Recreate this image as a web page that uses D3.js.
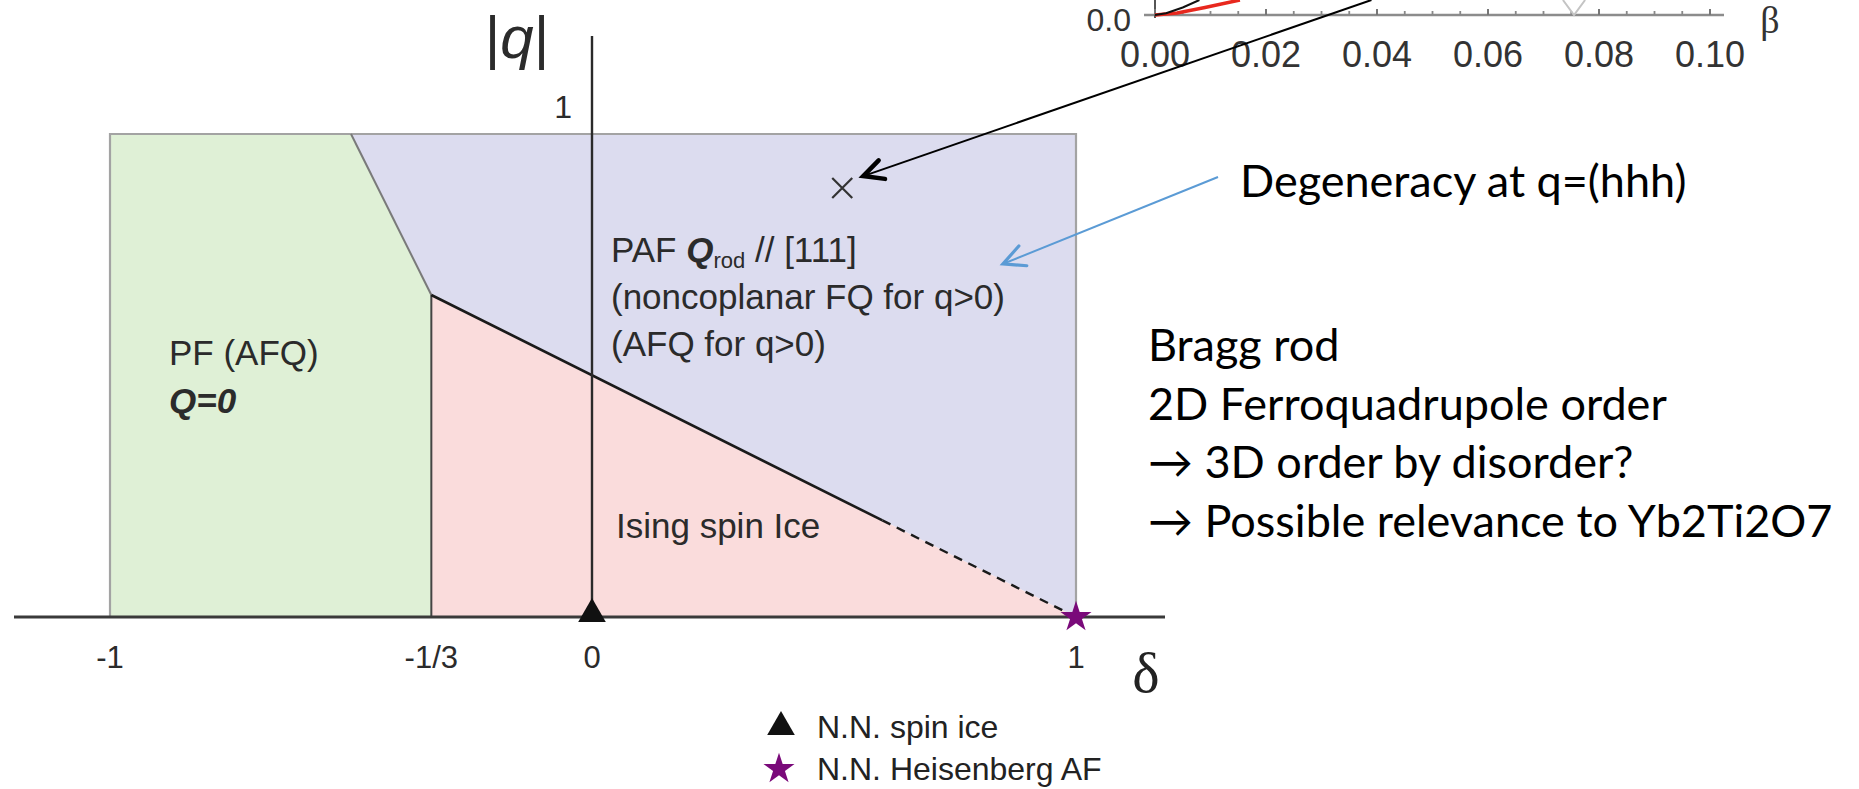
<!DOCTYPE html>
<html><head><meta charset="utf-8">
<script src="https://cdn.jsdelivr.net/npm/d3@7"></script>
<style>
html,body{margin:0;padding:0;background:#fff;}
svg{display:block;}
</style></head><body>
<svg id="c" width="1859" height="789"></svg>
<script>
// ---- phase diagram data, coordinates in (delta, |q|) ----
const deltaTicks = [-1, -1/3, 0, 1];
const deltaTickLabels = ["-1", "-1/3", "0", "1"];
const qTicks = [1];
const qTickLabels = ["1"];

const pfRegion = [[-1, 0], [-1, 1], [-0.5, 1], [-1/3, 2/3], [-1/3, 0]];
const pafRegion = [[-0.5, 1], [1, 1], [1, 0], [-1/3, 2/3]];
const isingRegion = [[-1/3, 0], [-1/3, 2/3], [1, 0]];

const pfPafBoundary = [[-0.5, 1], [-1/3, 2/3]];
const pfIsingBoundary = [[-1/3, 0], [-1/3, 2/3]];
const isingSolid = [[-1/3, 2/3], [0.6, 0.2]];
const isingDashed = [[0.6, 0.2], [1, 0]];

const spinIcePoint = [0, 0];
const heisenbergPoint = [1, 0];
const degeneracyPoint = [0.517, 0.888];
const blueTarget = [0.849, 0.731];

const legendItems = ["N.N. spin ice", "N.N. Heisenberg AF"];
const notes = ["Bragg rod", "2D Ferroquadrupole order", "\u2192 3D order by disorder?", "\u2192 Possible relevance to Yb2Ti2O7"];

// ---- inset (beta axis), only its bottom strip is visible ----
const betaTicks = [0, 0.02, 0.04, 0.06, 0.08, 0.10];
const betaTickLabels = ["0.00", "0.02", "0.04", "0.06", "0.08", "0.10"];
const betaMinorTicks = [0.005, 0.01, 0.015, 0.025, 0.03, 0.035, 0.045, 0.05, 0.055, 0.065, 0.07, 0.075, 0.085, 0.09, 0.095];
const redCurve = [[0, 0], [0.004, 0.007], [0.009, 0.025], [0.0153, 0.05]];
const blackCurve = [[0, 0], [0.002, 0.006], [0.005, 0.025], [0.008, 0.05]];
const greyDip = [[0.0735, 0.05], [0.0755, 0], [0.0775, 0.05]];
const arrowTail = [0.039, 0.05];

const svg = d3.select("#c");
const x = d3.scaleLinear().domain([-1, 0, 1]).range([110, 592, 1076]);
const y = d3.scaleLinear().domain([0, 1]).range([617, 134]);
const bx = d3.scaleLinear().domain([0, 0.1]).range([1155, 1710]);
const by = d3.scaleLinear().domain([0, 0.05]).range([15, 0]);

const line = d3.line().x(d => x(d[0])).y(d => y(d[1]));
const bline = d3.line().x(d => bx(d[0])).y(d => by(d[1]));
const SANS = "'Liberation Sans', Arial, sans-serif";
const SERIF = "'Liberation Serif', 'Times New Roman', serif";
const NOTE = "Lato, 'Open Sans', sans-serif";

// regions
const regions = [
  {pts: pfRegion, fill: "#dff0d6"},
  {pts: pafRegion, fill: "#dcdcef"},
  {pts: isingRegion, fill: "#fadcdc"}
];
svg.selectAll("path.region").data(regions).join("path")
  .attr("class", "region")
  .attr("d", d => line(d.pts) + "Z")
  .attr("fill", d => d.fill);

// outer frame of the diagram
svg.append("path")
  .attr("d", line([[-1, 0], [-1, 1], [1, 1], [1, 0]]))
  .attr("fill", "none").attr("stroke", "#a3a3a3").attr("stroke-width", 2.2);

svg.append("path").attr("d", line(pfPafBoundary))
  .attr("fill", "none").attr("stroke", "#7a7a7a").attr("stroke-width", 2);
svg.append("path").attr("d", line(pfIsingBoundary))
  .attr("fill", "none").attr("stroke", "#444").attr("stroke-width", 2);
svg.append("path").attr("d", line(isingSolid))
  .attr("fill", "none").attr("stroke", "#1a1a1a").attr("stroke-width", 2.6);
svg.append("path").attr("d", line(isingDashed))
  .attr("fill", "none").attr("stroke", "#1a1a1a").attr("stroke-width", 2.4)
  .attr("stroke-dasharray", "9,7");

// axes
svg.append("line").attr("x1", 14).attr("x2", 1165).attr("y1", y(0)).attr("y2", y(0))
  .attr("stroke", "#3a3a3a").attr("stroke-width", 3);
svg.append("line").attr("x1", x(0)).attr("x2", x(0)).attr("y1", 36).attr("y2", y(0))
  .attr("stroke", "#2a2a2a").attr("stroke-width", 2.4);

svg.selectAll("text.dtick").data(deltaTicks).join("text")
  .attr("class", "dtick")
  .attr("x", d => x(d)).attr("y", 668)
  .attr("text-anchor", "middle")
  .attr("font-family", SANS).attr("font-size", 31).attr("fill", "#2b2b2b")
  .text((d, i) => deltaTickLabels[i]);

svg.selectAll("text.qtick").data(qTicks).join("text")
  .attr("class", "qtick")
  .attr("x", x(0) - 20).attr("y", d => y(d) - 16)
  .attr("text-anchor", "end")
  .attr("font-family", SANS).attr("font-size", 32).attr("fill", "#2b2b2b")
  .text((d, i) => qTickLabels[i]);

const qLab = svg.append("text").attr("x", 517).attr("y", 58).attr("text-anchor", "middle")
  .attr("font-family", SANS).attr("font-size", 60).attr("fill", "#2b2b2b");
qLab.append("tspan").text("|");
qLab.append("tspan").attr("font-style", "italic").text("q");
qLab.append("tspan").text("|");

svg.append("text").attr("x", 1146).attr("y", 692).attr("text-anchor", "middle")
  .attr("font-family", SERIF).attr("font-size", 58).attr("fill", "#222").text("\u03b4");

// region labels
const lab = (tx, ty) => svg.append("text").attr("x", tx).attr("y", ty)
  .attr("font-family", SANS).attr("font-size", 35).attr("fill", "#2b2b2b");
lab(169, 365).text("PF (AFQ)");
lab(169, 413).attr("font-weight", "bold").attr("font-style", "italic").text("Q=0");

const paf = lab(611, 262);
paf.append("tspan").text("PAF ");
paf.append("tspan").attr("font-weight", "bold").attr("font-style", "italic").text("Q");
paf.append("tspan").attr("font-size", 22).attr("dy", 6).text("rod");
paf.append("tspan").attr("dy", -6).text(" // [111]");
lab(611, 309).text("(noncoplanar FQ for q>0)");
lab(611, 356).text("(AFQ for q>0)");
lab(616, 538).text("Ising spin Ice");

// markers
const tri = d3.symbol().type(d3.symbolTriangle).size(330);
const star = d3.symbol().type(d3.symbolStar).size(300);
svg.append("path").attr("d", tri)
  .attr("transform", `translate(${x(spinIcePoint[0])},${y(spinIcePoint[1]) - 3})`)
  .attr("fill", "#111");
svg.append("path").attr("d", star)
  .attr("transform", `translate(${x(heisenbergPoint[0])},${y(heisenbergPoint[1])})`)
  .attr("fill", "#7a0a7a");

// degeneracy cross
const cx = x(degeneracyPoint[0]), cy = y(degeneracyPoint[1]);
svg.append("path")
  .attr("d", `M${cx - 10},${cy - 10}L${cx + 10},${cy + 10}M${cx - 10},${cy + 10}L${cx + 10},${cy - 10}`)
  .attr("stroke", "#333").attr("stroke-width", 2.2).attr("fill", "none");

// legend
const legendY = [727, 769];
svg.append("path").attr("d", tri).attr("transform", `translate(781,${legendY[0]})`).attr("fill", "#111");
svg.append("path").attr("d", star).attr("transform", `translate(779,${legendY[1]})`).attr("fill", "#7a0a7a");
svg.selectAll("text.leg").data(legendItems).join("text")
  .attr("class", "leg")
  .attr("x", 817).attr("y", (d, i) => legendY[i] + 11)
  .attr("font-family", SANS).attr("font-size", 32).attr("fill", "#222")
  .text(d => d);

// inset strip
svg.append("line").attr("x1", 1144).attr("x2", 1724).attr("y1", by(0)).attr("y2", by(0))
  .attr("stroke", "#8c8c8c").attr("stroke-width", 2.4);
svg.append("line").attr("x1", bx(0)).attr("x2", bx(0)).attr("y1", -2).attr("y2", by(0) + 3)
  .attr("stroke", "#555").attr("stroke-width", 2);
svg.selectAll("line.bmaj").data(betaTicks).join("line").attr("class", "bmaj")
  .attr("x1", d => bx(d)).attr("x2", d => bx(d)).attr("y1", by(0) - 6).attr("y2", by(0))
  .attr("stroke", "#777").attr("stroke-width", 2);
svg.selectAll("line.bmin").data(betaMinorTicks).join("line").attr("class", "bmin")
  .attr("x1", d => bx(d)).attr("x2", d => bx(d)).attr("y1", by(0) - 4).attr("y2", by(0))
  .attr("stroke", "#888").attr("stroke-width", 1.8);
svg.selectAll("text.btick").data(betaTicks).join("text").attr("class", "btick")
  .attr("x", d => bx(d)).attr("y", 67).attr("text-anchor", "middle")
  .attr("font-family", SANS).attr("font-size", 36).attr("fill", "#333")
  .text((d, i) => betaTickLabels[i]);
svg.append("text").attr("x", 1131).attr("y", 31).attr("text-anchor", "end")
  .attr("font-family", SANS).attr("font-size", 32).attr("fill", "#333").text("0.0");
svg.append("text").attr("x", 1770).attr("y", 33).attr("text-anchor", "middle")
  .attr("font-family", SERIF).attr("font-size", 38).attr("fill", "#333").text("\u03b2");
svg.append("path").attr("d", bline(greyDip)).attr("fill", "none")
  .attr("stroke", "#c4c4c4").attr("stroke-width", 2);
svg.append("path").attr("d", bline(redCurve)).attr("fill", "none")
  .attr("stroke", "#e8281e").attr("stroke-width", 3.5);
svg.append("path").attr("d", bline(blackCurve)).attr("fill", "none")
  .attr("stroke", "#111").attr("stroke-width", 2);

// arrows
function arrow(x1, y1, x2, y2, color, w, headW, len) {
  svg.append("line").attr("x1", x1).attr("y1", y1).attr("x2", x2).attr("y2", y2)
    .attr("stroke", color).attr("stroke-width", w);
  const a = Math.atan2(y1 - y2, x1 - x2), s = 0.46;
  const p1 = [x2 + len * Math.cos(a + s), y2 + len * Math.sin(a + s)];
  const p2 = [x2 + len * Math.cos(a - s), y2 + len * Math.sin(a - s)];
  svg.append("path").attr("d", `M${p1}L${x2},${y2}L${p2}`)
    .attr("fill", "none").attr("stroke", color).attr("stroke-width", headW)
    .attr("stroke-linecap", "round").attr("stroke-linejoin", "miter");
}
arrow(bx(arrowTail[0]), by(arrowTail[1]), cx + 21, cy - 12, "#000", 2, 4.5, 22);

// notes on the right
const degX = 1240, degY = 197;
svg.append("text").attr("x", degX).attr("y", degY)
  .attr("font-family", NOTE).attr("font-size", 45).attr("fill", "#000")
  .text("Degeneracy at q=(hhh)");
arrow(degX - 22, degY - 20, x(blueTarget[0]), y(blueTarget[1]), "#5b9bd5", 2, 3.2, 24);

svg.selectAll("text.note").data(notes).join("text").attr("class", "note")
  .attr("x", 1148).attr("y", (d, i) => 361 + i * 58.5)
  .attr("font-family", NOTE).attr("font-size", 45).attr("fill", "#000")
  .text(d => d);
</script>
</body></html>
